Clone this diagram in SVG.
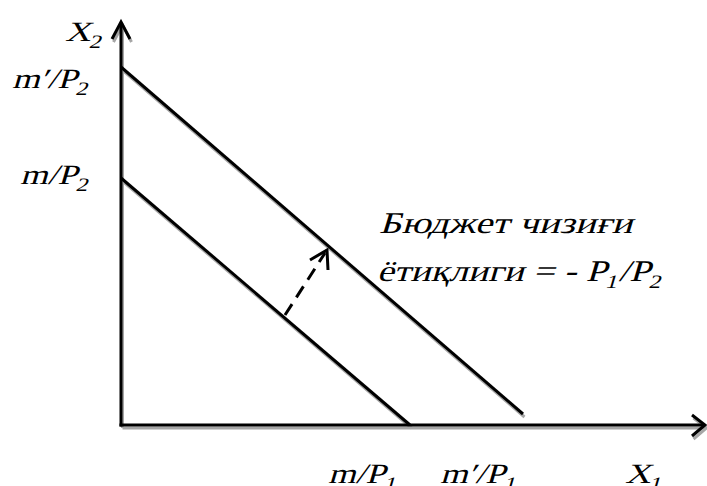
<svg xmlns="http://www.w3.org/2000/svg" width="707" height="486" viewBox="0 0 707 486">
<defs>
<style>
.t{font-family:"Liberation Serif","Times New Roman",serif;font-style:normal;font-size:28px;fill:#000}
.big{font-size:30px}
.sub{font-size:19px}
.ln{stroke:#000;stroke-width:3;fill:none;stroke-linecap:butt}
.sh{stroke:#a6a6a6;stroke-width:3;fill:none}
</style>
</defs>
<g id="connectors">
<g transform="translate(1.5,3)" class="sh">
<line x1="121" y1="24" x2="121" y2="425"/>
<line x1="121" y1="425" x2="704" y2="425"/>
<polyline points="112,39 121,22 130,39"/>
<polyline points="692,415 705,425 692,436"/>
<line x1="121" y1="178" x2="410" y2="425"/>
<line x1="121" y1="67" x2="523" y2="414"/>
</g>
<line class="ln" x1="121" y1="24" x2="121" y2="426.5"/>
<line class="ln" x1="119.5" y1="425" x2="704" y2="425"/>
<polyline class="ln" points="112,39 121,22 130,39"/>
<polyline class="ln" points="692,415 705,425 692,436"/>
<line id="budget1" class="ln" x1="121" y1="178" x2="410" y2="425"/>
<line id="budget2" class="ln" x1="121" y1="67" x2="523" y2="414"/>
<line id="shift" class="ln" x1="285" y1="315" x2="325" y2="253" stroke-dasharray="13,8"/>
<polyline class="ln" points="310,260 327,250 328,270"/>
</g>
<g id="label-x2" transform="translate(65,41) scale(1.27,1) skewX(-13)"><text class="t">X<tspan class="sub" dy="7">2</tspan></text></g>
<g id="label-m2p" transform="translate(12,88) scale(1.27,1) skewX(-13)"><text class="t">m′/P<tspan class="sub" dy="7">2</tspan></text></g>
<g id="label-m2" transform="translate(20,184) scale(1.27,1) skewX(-13)"><text class="t">m/P<tspan class="sub" dy="7">2</tspan></text></g>
<g id="label-m1" transform="translate(328,483) scale(1.27,1) skewX(-13)"><text class="t">m/P<tspan class="sub" dy="7">1</tspan></text></g>
<g id="label-m1p" transform="translate(440,483) scale(1.27,1) skewX(-13)"><text class="t">m′/P<tspan class="sub" dy="7">1</tspan></text></g>
<g id="label-x1" transform="translate(625,483) scale(1.27,1) skewX(-13)"><text class="t">X<tspan class="sub" dy="7">1</tspan></text></g>
<g id="label-slope1" transform="translate(379,233) scale(1.3,1) skewX(-13)"><text class="t big">Бюджет чизиғи</text></g>
<g id="label-slope2" transform="translate(377,281) scale(1.26,1) skewX(-13)"><text class="t big">ётиқлиги = - P<tspan class="sub" dy="7">1</tspan><tspan dy="-7">/P</tspan><tspan class="sub" dy="7">2</tspan></text></g>
</svg>
